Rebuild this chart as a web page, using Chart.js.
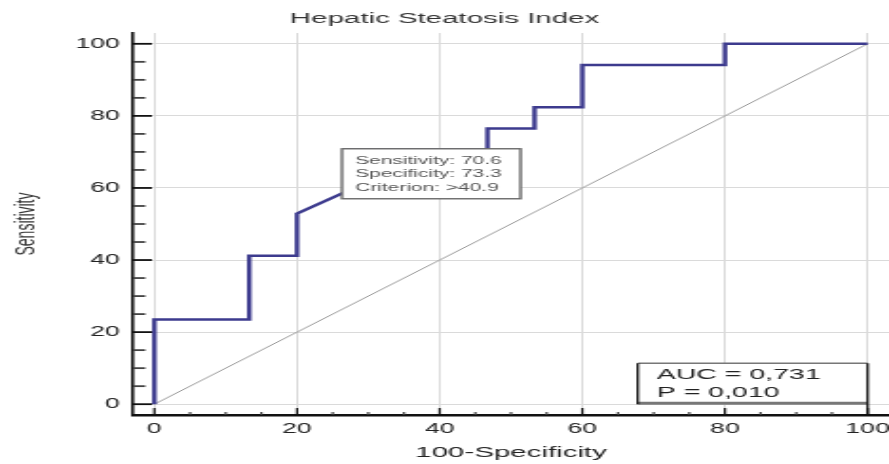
<!DOCTYPE html>
<html lang="en">
<head>
<meta charset="UTF-8">
<title>Hepatic Steatosis Index - ROC</title>
<script src="https://cdn.jsdelivr.net/npm/chart.js"></script>
<style>
  html, body { margin: 0; padding: 0; background: #fff; overflow: hidden; }
  /* the drawing buffer is narrower than the page and gets stretched sideways */
  #roc { display: block; width: 889px; height: 464px; }
</style>
</head>
<body>
<canvas id="roc" width="468" height="464" style="width:889px;height:464px"></canvas>
<script>
// ROC curve vertices (100-Specificity, Sensitivity)
const rocFpr  = [0, 0,    13.3, 13.3, 20,   20,   26.7, 26.7, 46.7, 46.7, 53.3, 53.3, 60,   60,   80,   80,  100];
const rocSens = [0, 23.5, 23.5, 41.2, 41.2, 52.9, 58.8, 70.6, 70.6, 76.5, 76.5, 82.4, 82.4, 94.1, 94.1, 100, 100];

// reference (chance) line
const chanceFpr  = [0, 100];
const chanceSens = [0, 100];

// axis tick labels
const axisTicks = [0, 20, 40, 60, 80, 100];

// optimal cut-off and summary stats
const optSens = 70.6;
const optSpec = 73.3;
const optCriterion = '>40.9';
const aucValue = '0,731';
const pValue = '0,010';

const FONT = "'Liberation Sans', Arial, sans-serif";
Chart.defaults.font.family = FONT;

const toPoints = (xs, ys) => xs.map((x, i) => ({ x: x, y: ys[i] }));

// inward ticks on both axes + the two text boxes
const rocExtras = {
  id: 'rocExtras',
  beforeDatasetsDraw(chart) {
    const ctx = chart.ctx;
    const xs = chart.scales.x, ys = chart.scales.y;
    const { left, bottom } = chart.chartArea;
    ctx.save();
    for (let v = 0; v <= 100; v += 5) {
      const major = v % 20 === 0;
      ctx.strokeStyle = major ? '#111' : '#444';
      const py = ys.getPixelForValue(v);
      ctx.lineWidth = 1.8;
      ctx.beginPath();
      ctx.moveTo(left, py);
      ctx.lineTo(left + (major ? 10 : 6.5), py);
      ctx.stroke();
      const px = xs.getPixelForValue(v);
      ctx.lineWidth = 1.2;
      ctx.beginPath();
      ctx.moveTo(px, bottom);
      ctx.lineTo(px, bottom - (major ? 7 : 3));
      ctx.stroke();
    }
    ctx.restore();
  },
  afterDatasetsDraw(chart) {
    const ctx = chart.ctx;
    const xs = chart.scales.x, ys = chart.scales.y;
    ctx.save();

    // criterion box, top-left corner sits on the optimal point
    const bx = xs.getPixelForValue(100 - optSpec) - 1.5;
    const by = ys.getPixelForValue(optSens) - 1;
    const bw = 94, bh = 50;
    ctx.fillStyle = '#fff';
    ctx.fillRect(bx, by, bw, bh);
    ctx.strokeStyle = '#6a6a6a';
    ctx.lineWidth = 1.4;
    ctx.strokeRect(bx, by, bw, bh);
    ctx.fillStyle = '#555';
    ctx.font = '11px ' + FONT;
    ctx.textBaseline = 'middle';
    ctx.fillText('Sensitivity: ' + optSens.toFixed(1), bx + 7, by + 12);
    ctx.fillText('Specificity: ' + optSpec.toFixed(1), bx + 7, by + 25.5);
    ctx.fillText('Criterion: ' + optCriterion, bx + 7, by + 39);

    // AUC box in the lower right corner
    const ar = xs.getPixelForValue(100);
    const ab = ys.getPixelForValue(0);
    const aw = 121, ah = 41;
    const al = ar - aw, at = ab - ah;
    ctx.fillStyle = '#fff';
    ctx.fillRect(al, at, aw, ah);
    ctx.strokeStyle = '#777';
    ctx.lineWidth = 1.6;
    ctx.beginPath(); ctx.moveTo(al, at); ctx.lineTo(ar, at); ctx.stroke();
    ctx.lineWidth = 3;
    ctx.beginPath(); ctx.moveTo(al, ab - 1); ctx.lineTo(ar, ab - 1); ctx.stroke();
    ctx.strokeStyle = '#111';
    ctx.lineWidth = 1.3;
    ctx.beginPath(); ctx.moveTo(al, at); ctx.lineTo(al, ab); ctx.stroke();
    ctx.beginPath(); ctx.moveTo(ar, at); ctx.lineTo(ar, chart.chartArea.bottom); ctx.stroke();
    ctx.fillStyle = '#222';
    ctx.font = '15px ' + FONT;
    ctx.fillText('AUC = ' + aucValue, al + 10, at + 12);
    ctx.fillText('P = ' + pValue, al + 10, at + 29.5);

    ctx.restore();
  }
};

new Chart(document.getElementById('roc'), {
  type: 'scatter',
  data: {
    datasets: [
      {
        data: toPoints(chanceFpr, chanceSens),
        showLine: true,
        borderColor: '#9a9a9a',
        borderWidth: 1,
        pointRadius: 0,
        order: 2
      },
      {
        data: toPoints(rocFpr, rocSens),
        showLine: true,
        borderColor: '#3d3b8e',
        borderWidth: 2.4,
        pointRadius: 0,
        borderJoinStyle: 'miter',
        order: 1
      }
    ]
  },
  options: {
    responsive: false,
    animation: false,
    devicePixelRatio: 1,
    layout: { padding: 0 },
    plugins: {
      legend: { display: false },
      tooltip: { enabled: false },
      title: {
        display: true,
        text: 'Hepatic Steatosis Index',
        color: '#333',
        font: { size: 15.5, weight: 'normal' },
        padding: { top: 9.5, bottom: 4.9 }
      }
    },
    scales: {
      x: {
        type: 'linear',
        min: -3,
        max: 103,
        afterBuildTicks: s => { s.ticks = axisTicks.map(v => ({ value: v })); },
        afterFit: s => { s.height = 49; s.paddingLeft = 0; s.paddingRight = 0; },
        grid: { color: '#dadada', lineWidth: 1, drawTicks: false },
        border: { display: true, color: '#111', width: 2.5 },
        ticks: { color: '#222', font: { size: 14 }, padding: 6, maxRotation: 0 },
        title: {
          display: true,
          text: '100-Specificity',
          color: '#222',
          font: { size: 15.5 },
          padding: { top: 0, bottom: 2 }
        }
      },
      y: {
        type: 'linear',
        min: -3,
        max: 103,
        afterBuildTicks: s => { s.ticks = axisTicks.map(v => ({ value: v })); },
        afterFit: s => { s.width = 70; },
        grid: { color: '#dadada', lineWidth: 1, drawTicks: false },
        border: { display: true, color: '#111', width: 1.6 },
        ticks: { color: '#222', font: { size: 14 }, padding: 7 },
        title: {
          display: true,
          text: 'Sensitivity',
          color: '#333',
          font: { size: 14 },
          padding: { top: 6, bottom: 0 }
        }
      }
    }
  },
  plugins: [rocExtras]
});
</script>
</body>
</html>
